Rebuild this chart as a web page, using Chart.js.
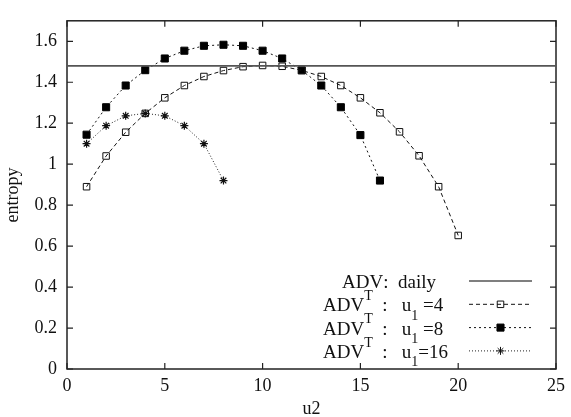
<!DOCTYPE html>
<html>
<head>
<meta charset="utf-8">
<script src="https://cdn.jsdelivr.net/npm/chart.js@4.4.0/dist/chart.umd.min.js"></script>
<style>
  html, body { margin: 0; padding: 0; background: #fff; }
  #wrap { width: 571px; height: 417px; }
</style>
</head>
<body>
<div id="wrap"><canvas id="chart" width="571" height="417"></canvas></div>
<script>
// values
const u2U4 = [1, 2, 3, 4, 5, 6, 7, 8, 9, 10, 11, 12, 13, 14, 15, 16, 17, 18, 19, 20];
const entropyU4 = [0.89, 1.04, 1.156, 1.248, 1.324, 1.384, 1.428, 1.457, 1.476, 1.482,
                   1.478, 1.458, 1.428, 1.384, 1.324, 1.251, 1.158, 1.041, 0.89, 0.652];
const u2U8 = [1, 2, 3, 4, 5, 6, 7, 8, 9, 10, 11, 12, 13, 14, 15, 16];
const entropyU8 = [1.144, 1.278, 1.384, 1.459, 1.516, 1.554, 1.578, 1.583,
                   1.578, 1.554, 1.516, 1.458, 1.384, 1.278, 1.142, 0.92];
const u2U16 = [1, 2, 3, 4, 5, 6, 7, 8];
const entropyU16 = [1.1, 1.188, 1.236, 1.248, 1.236, 1.188, 1.1, 0.92];
const dailyEntropy = 1.48;

const xTicks = [0, 5, 10, 15, 20, 25];
const yTicks = [0, 0.2, 0.4, 0.6, 0.8, 1, 1.2, 1.4, 1.6];
const legendLabels = ['ADV:  daily', 'ADV^T  :   u_1 =4', 'ADV^T  :   u_1 =8', 'ADV^T  :   u_1=16'];

const serif = "'Liberation Serif', 'DejaVu Serif', serif";
const ink = '#111';

function pts(xs, ys) {
    return xs.map((x, i) => ({ x: x, y: ys[i] }));
}

// frame and inward ticks, gnuplot style
const framePlugin = {
    id: 'frame',
    beforeDatasetsDraw(chart) {
        const { ctx, chartArea: a, scales } = chart;
        const len = 6;
        ctx.save();
        ctx.strokeStyle = '#222';
        ctx.lineWidth = 1.2;
        ctx.beginPath();
        xTicks.forEach(v => {
            const px = scales.x.getPixelForValue(v);
            ctx.moveTo(px, a.bottom); ctx.lineTo(px, a.bottom - len);
            ctx.moveTo(px, a.top); ctx.lineTo(px, a.top + len);
        });
        yTicks.forEach(v => {
            const py = scales.y.getPixelForValue(v);
            ctx.moveTo(a.left, py); ctx.lineTo(a.left + len, py);
            ctx.moveTo(a.right, py); ctx.lineTo(a.right - len, py);
        });
        ctx.stroke();
        ctx.lineWidth = 1.5;
        ctx.strokeRect(a.left, a.top, a.right - a.left, a.bottom - a.top);
        ctx.restore();
    }
};

// draws "ADV^T :  u_1=4" with super/subscripts
function drawRich(ctx, text, x, y, size) {
    let i = 0;
    while (i < text.length) {
        const c = text[i];
        if ((c === '^' || c === '_') && i + 1 < text.length) {
            const small = Math.round(size * 0.75);
            ctx.font = small + 'px ' + serif;
            const dy = c === '^' ? -size * 0.6 : size * 0.45;
            ctx.fillText(text[i + 1], x, y + dy);
            x += ctx.measureText(text[i + 1]).width;
            i += 2;
        } else {
            ctx.font = size + 'px ' + serif;
            ctx.fillText(c, x, y);
            x += ctx.measureText(c).width;
            i += 1;
        }
    }
}

const legendPlugin = {
    id: 'keyBox',
    afterDraw(chart) {
        const ctx = chart.ctx;
        const sets = chart.data.datasets;
        const rowY = 281, gap = 23.3;
        const x0 = 469, x1 = 532;
        const textX = [342, 323, 323, 323];
        sets.forEach((ds, i) => {
            const y = rowY + i * gap;
            ctx.save();
            ctx.fillStyle = ink;
            ctx.textBaseline = 'alphabetic';
            drawRich(ctx, legendLabels[i], textX[i], y + 7, 19);
            ctx.strokeStyle = ds.borderColor;
            ctx.lineWidth = ds.borderWidth;
            ctx.setLineDash(ds.borderDash || []);
            ctx.beginPath();
            ctx.moveTo(x0, y); ctx.lineTo(x1, y);
            ctx.stroke();
            ctx.setLineDash([]);
            if (ds.pointRadius > 0) {
                ctx.strokeStyle = ds.pointBorderColor;
                ctx.fillStyle = ds.pointBackgroundColor;
                ctx.lineWidth = 1;
                Chart.helpers.drawPoint(ctx, {
                    pointStyle: ds.pointStyle,
                    radius: ds.pointRadius,
                    rotation: 0,
                    borderWidth: 1
                }, (x0 + x1) / 2, y);
            }
            ctx.restore();
        });
    }
};

new Chart(document.getElementById('chart').getContext('2d'), {
    type: 'line',
    data: {
        datasets: [
            {
                data: pts([xTicks[0], xTicks[xTicks.length - 1]], [dailyEntropy, dailyEntropy]),
                borderColor: '#555',
                borderWidth: 1.6,
                pointRadius: 0
            },
            {
                data: pts(u2U4, entropyU4),
                borderColor: '#111',
                borderWidth: 1,
                borderDash: [4, 3],
                pointStyle: 'rect',
                pointRadius: 4.6,
                pointBorderColor: '#111',
                pointBackgroundColor: 'rgba(0,0,0,0)',
                pointBorderWidth: 1
            },
            {
                data: pts(u2U8, entropyU8),
                borderColor: '#111',
                borderWidth: 1,
                borderDash: [2, 3],
                pointStyle: 'rect',
                pointRadius: 5,
                pointBorderColor: '#000',
                pointBackgroundColor: '#000',
                pointBorderWidth: 1
            },
            {
                data: pts(u2U16, entropyU16),
                borderColor: '#222',
                borderWidth: 1,
                borderDash: [1, 2],
                pointStyle: 'star',
                pointRadius: 4,
                pointBorderColor: '#111',
                pointBackgroundColor: '#111',
                pointBorderWidth: 1.2
            }
        ]
    },
    options: {
        responsive: false,
        animation: false,
        layout: { padding: { top: 10, right: 12, left: 0, bottom: 0 } },
        plugins: { legend: { display: false }, tooltip: { enabled: false } },
        scales: {
            x: {
                type: 'linear',
                min: 0,
                max: 25,
                afterBuildTicks: s => { s.ticks = xTicks.map(v => ({ value: v })); },
                afterFit: s => { s.height = 48; },
                grid: { display: false, drawTicks: false },
                border: { display: false },
                ticks: { color: ink, padding: 6, maxRotation: 0, font: { family: serif, size: 18 } },
                title: { display: true, text: 'u2', color: ink, padding: { top: 0, bottom: -3 },
                         font: { family: serif, size: 18 } }
            },
            y: {
                min: 0,
                max: 1.7,
                afterBuildTicks: s => { s.ticks = yTicks.map(v => ({ value: v })); },
                afterFit: s => { s.width = 67; },
                grid: { display: false, drawTicks: false },
                border: { display: false },
                ticks: {
                    color: ink, padding: 10, font: { family: serif, size: 18 },
                    callback: v => String(Math.round(v * 10) / 10)
                },
                title: { display: true, text: 'entropy', color: ink, padding: { top: 2, bottom: 0 },
                         font: { family: serif, size: 18 } }
            }
        }
    },
    plugins: [framePlugin, legendPlugin]
});
</script>
</body>
</html>
